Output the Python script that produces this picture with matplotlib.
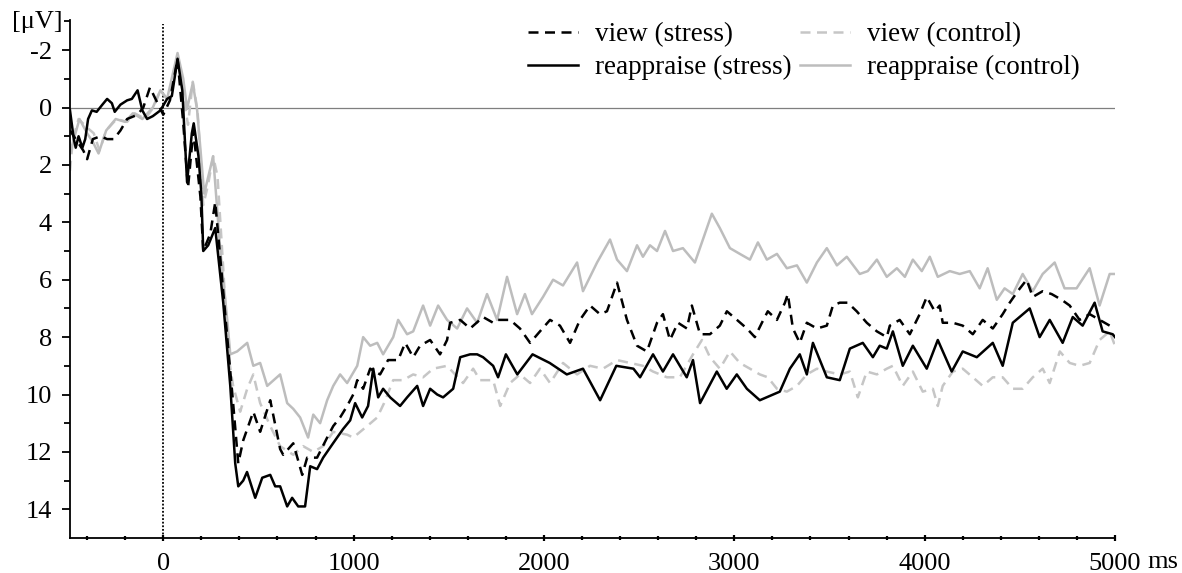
import numpy as np
import matplotlib
matplotlib.use("Agg")
import matplotlib.pyplot as plt

plt.rcParams['font.family'] = ['Liberation Serif', 'DejaVu Serif']

# grand-average ERP waveforms, time in ms, amplitude in microvolts
t_reapp_stress = [-490, -470, -460, -445, -425, -410, -395, -375, -350, -320, -295, -270, -255,
                  -225, -190, -165, -135, -110, -85, -55, -15, 20, 45, 75, 100, 125, 150, 160,
                  185, 200, 210, 236, 273, 315, 352, 378, 394, 420, 440, 483, 520, 562, 588,
                  614, 651, 677, 709, 745, 772, 808, 840, 892, 945, 982, 1008, 1045, 1076,
                  1103, 1129, 1155, 1192, 1244, 1281, 1334, 1365, 1402, 1439, 1470, 1523,
                  1560, 1612, 1649, 1680, 1733, 1759, 1800, 1860, 1940, 2030, 2120, 2205,
                  2295, 2380, 2470, 2505, 2573, 2625, 2678, 2750, 2783, 2820, 2908, 2960,
                  3013, 3066, 3134, 3239, 3292, 3344, 3381, 3413, 3486, 3554, 3607, 3675,
                  3728, 3764, 3801, 3833, 3885, 3938, 4011, 4069, 4142, 4200, 4274, 4358,
                  4410, 4463, 4552, 4604, 4657, 4725, 4778, 4830, 4893, 4935, 4988, 5000]
v_reapp_stress = [0.1, 1.1, 1.4, 1.0, 1.4, 1.1, 0.4, 0.1, 0.15, -0.1, -0.3, -0.15, 0.15,
                  -0.1, -0.25, -0.3, -0.6, 0.1, 0.4, 0.3, 0.1, -0.3, -0.4, -1.7, -0.6, 2.6, 0.9, 0.55,
                  1.7, 3.0, 5.0, 4.8, 4.2, 6.8, 9.7, 12.4, 13.2, 13.0, 12.7, 13.6, 12.9, 12.8, 13.2,
                  13.2, 13.9, 13.6, 13.9, 13.9, 12.5, 12.6, 12.2, 11.7, 11.2, 10.9, 10.3, 10.8, 10.4,
                  9.1, 10.1, 9.8, 10.1, 10.4, 10.1, 9.7, 10.4, 9.8, 10.0, 10.1, 9.8,
                  8.7, 8.6, 8.6, 8.7, 9.0, 9.4, 8.6, 9.3, 8.6, 8.9, 9.3, 9.1,
                  10.2, 9.0, 9.1, 9.4, 8.6, 9.2, 8.6, 9.4, 8.8, 10.3, 9.2, 9.8,
                  9.3, 9.8, 10.2, 9.9, 9.1, 8.6, 9.3, 8.2, 9.4, 9.5, 8.4, 8.2,
                  8.7, 8.3, 8.4, 7.8, 9.0, 8.3, 9.1, 8.1, 9.2, 8.5, 8.7, 8.2,
                  9.0, 7.5, 7.0, 8.0, 7.4, 8.2, 7.3, 7.6, 6.8, 7.8, 7.9, 8.0]

t_reapp_control = [-490, -470, -440, -400, -370, -340, -300, -250, -200, -160, -110, -55, -15,
                   20, 75, 105, 125, 155, 178, 215, 262, 300, 336, 352, 388, 441, 473, 509,
                   546, 614, 651, 683, 719, 761, 788, 824, 861, 893, 929, 966, 1019, 1050,
                   1087, 1124, 1155, 1208, 1234, 1281, 1313, 1365, 1402, 1444, 1491, 1544,
                   1596, 1649, 1701, 1754, 1806, 1859, 1900, 1937, 1995, 2048, 2100, 2174,
                   2205, 2279, 2347, 2384, 2436, 2489, 2520, 2557, 2594, 2636, 2678, 2730,
                   2793, 2835, 2882, 2924, 2977, 3029, 3082, 3124, 3171, 3224, 3276, 3329,
                   3381, 3434, 3486, 3539, 3591, 3659, 3701, 3749, 3801, 3854, 3896, 3938,
                   3985, 4027, 4069, 4132, 4184, 4237, 4289, 4331, 4379, 4420, 4463, 4515,
                   4568, 4620, 4683, 4735, 4798, 4867, 4919, 4972, 5000]
v_reapp_control = [1.6, 1.1, 0.4, 0.9, 1.2, 1.6, 0.8, 0.4, 0.5, 0.2, 0.4, 0.0, -0.6,
                   -0.3, -1.9, -1.0, 0.05, -0.85, 0.1, 3.0, 1.7, 5.0, 7.4, 8.6, 8.5, 8.2, 9.0, 8.9,
                   9.7, 9.3, 10.3, 10.5, 10.8, 11.5, 10.7, 11.0, 10.2, 9.7, 9.3, 9.6, 9.0, 8.0,
                   8.3, 8.2, 8.6, 8.0, 7.4, 7.9, 7.8, 6.9, 7.6, 6.9, 7.4, 7.7,
                   7.0, 7.5, 6.5, 7.4, 5.9, 7.2, 6.5, 7.2, 6.6, 6.0, 6.2, 5.4,
                   6.4, 5.4, 4.6, 5.3, 5.7, 4.8, 5.2, 4.8, 5.0, 4.3, 5.0, 4.9,
                   5.4, 4.6, 3.7, 4.2, 4.9, 5.1, 5.3, 4.7, 5.3, 5.1, 5.6, 5.5,
                   6.1, 5.4, 4.9, 5.5, 5.2, 5.8, 5.7, 5.3, 5.9, 5.6, 5.9, 5.3,
                   5.7, 5.2, 5.9, 5.7, 5.8, 5.7, 6.3, 5.6, 6.7, 6.3, 6.5, 5.8,
                   6.4, 5.8, 5.4, 6.3, 6.3, 5.6, 6.9, 5.8, 5.8]

t_view_stress = [-490, -420, -400, -370, -330, -295, -260, -225, -190, -135, -105, -70, -30,
                 0, 35, 75, 105, 130, 158, 195, 210, 247, 273, 299, 336, 367, 394, 420, 473,
                 509, 562, 614, 630, 683, 730, 756, 808, 861, 893, 929, 966, 998, 1019, 1050,
                 1087, 1139, 1181, 1234, 1271, 1313, 1349, 1402, 1454, 1491, 1507, 1560, 1612,
                 1680, 1733, 1754, 1822, 1874, 1927, 1979, 2032, 2084, 2137, 2189, 2242, 2294,
                 2331, 2384, 2436, 2489, 2541, 2594, 2625, 2662, 2704, 2751, 2777, 2820, 2872,
                 2924, 2961, 3014, 3066, 3108, 3145, 3176, 3224, 3266, 3281, 3308, 3344, 3381,
                 3434, 3486, 3518, 3554, 3596, 3643, 3696, 3749, 3801, 3817, 3869, 3922, 3974,
                 4011, 4053, 4079, 4095, 4148, 4200, 4253, 4305, 4358, 4410, 4447, 4489, 4536,
                 4568, 4620, 4667, 4720, 4762, 4814, 4867, 4919, 4972, 5000]
v_view_stress = [0.8, 1.5, 1.8, 1.1, 1.0, 1.1, 1.1, 0.8, 0.4, 0.25, 0.0, -0.7, -0.15,
                 0.25, -0.25, -1.7, 0.55, 2.8, 0.8, 3.1, 5.0, 4.4, 3.3, 5.2, 8.0, 10.3, 12.4, 11.6, 10.6,
                 11.3, 10.2, 11.9, 12.1, 11.7, 12.8, 12.2, 12.2, 11.5, 11.1, 10.8, 10.4, 10.0, 9.5, 9.8,
                 9.1, 9.3, 8.8, 8.8, 8.2, 8.7, 8.3, 8.1, 8.6, 8.1, 7.5, 7.4, 7.7,
                 7.3, 7.5, 7.4, 7.4, 7.7, 8.2, 7.8, 7.4, 7.6, 8.2, 7.4, 6.9, 7.2,
                 7.1, 6.1, 7.4, 8.3, 8.5, 7.5, 7.2, 8.1, 7.5, 7.7, 6.9, 7.9, 7.9,
                 7.6, 7.1, 7.4, 7.7, 8.0, 7.5, 7.1, 7.4, 6.8, 6.5, 7.7, 8.2, 7.5,
                 7.7, 7.6, 6.9, 6.8, 6.8, 7.1, 7.5, 7.8, 8.0, 7.6, 7.4, 7.9, 7.2,
                 6.6, 7.1, 6.9, 7.5, 7.5, 7.6, 7.9, 7.4, 7.7, 7.2, 6.8, 6.4, 6.0,
                 6.6, 6.4, 6.5, 6.7, 6.9, 7.4, 7.2, 7.4, 7.6, 7.5]

t_view_control = [-490, -475, -445, -400, -365, -335, -300, -245, -190, -150, -95, -52, -15,
                  20, 40, 75, 105, 130, 155, 180, 210, 235, 262, 285, 315, 341, 367, 404, 441,
                  473, 509, 562, 614, 683, 735, 788, 840, 893, 966, 998, 1071, 1124, 1160,
                  1208, 1260, 1313, 1365, 1418, 1491, 1575, 1628, 1664, 1733, 1770, 1822,
                  1874, 1927, 1979, 2032, 2100, 2174, 2242, 2310, 2384, 2452, 2520, 2573,
                  2646, 2714, 2783, 2830, 2872, 2924, 2977, 3029, 3082, 3134, 3176, 3224,
                  3276, 3329, 3381, 3434, 3486, 3554, 3607, 3649, 3696, 3749, 3801, 3833,
                  3885, 3938, 3990, 4043, 4069, 4095, 4148, 4200, 4253, 4305, 4358, 4410,
                  4463, 4515, 4568, 4620, 4657, 4710, 4762, 4814, 4867, 4919, 4972, 5000]
v_view_control = [2.2, 1.1, 0.4, 0.7, 0.9, 1.5, 0.8, 0.4, 0.5, 0.2, 0.4, 0.0, -0.6,
                  -0.3, -0.5, -1.8, -0.4, 0.6, -0.9, 0.1, 3.4, 2.7, 1.7, 2.4, 5.6, 8.6, 9.7, 10.6, 9.8,
                  9.3, 10.3, 11.1, 11.8, 12.1, 11.8, 12.0, 11.8, 11.3, 11.4, 11.5, 11.1, 10.8, 10.3,
                  9.5, 9.5, 9.3, 9.4, 9.1, 9.0, 9.6, 9.1, 9.5, 9.5, 10.4, 9.6,
                  9.3, 9.6, 9.1, 9.6, 8.9, 9.3, 9.0, 9.1, 8.8, 8.9, 9.0, 9.2,
                  9.4, 9.4, 8.6, 8.1, 8.7, 9.1, 8.5, 8.9, 9.1, 9.3, 9.4, 9.8,
                  9.9, 9.7, 9.3, 9.1, 9.2, 9.3, 9.2, 10.1, 9.2, 9.3, 9.1, 9.0,
                  9.7, 9.2, 9.9, 9.8, 10.4, 9.7, 9.2, 9.1, 9.4, 9.7, 9.4, 9.4,
                  9.8, 9.8, 9.4, 9.1, 9.6, 8.5, 8.9, 9.0, 8.9, 8.1, 7.8, 8.3]

labels = ['view (stress)', 'reappraise (stress)', 'view (control)', 'reappraise (control)']

x_major = [0, 1000, 2000, 3000, 4000, 5000]
x_labels = ['0', '1000', '2000', '3000', '4000', '5000']
y_major = [-2, 0, 2, 4, 6, 8, 10, 12, 14]

fig = plt.figure(figsize=(11.82, 5.73), dpi=100)
ax = fig.add_axes([70 / 1182, 1 - 538 / 573, (1115 - 70) / 1182, 518 / 573])

dash = (4, 2.6)
gray_solid = '#bdbdbd'
gray_dash = '#c6c6c6'

ax.axhline(0, color='#7f7f7f', lw=0.9, zorder=1)
ax.axvline(0, ymax=(15 + 2.9) / 18.05, color='black', lw=1.3, ls=(0, (1, 1)), zorder=1)

l_vc, = ax.plot(t_view_control, v_view_control, color=gray_dash, lw=1.8, dashes=dash, zorder=2)
l_rc, = ax.plot(t_reapp_control, v_reapp_control, color=gray_solid, lw=1.8, zorder=2)
l_vs, = ax.plot(t_view_stress, v_view_stress, color='black', lw=1.8, dashes=dash, zorder=3)
l_rs, = ax.plot(t_reapp_stress, v_reapp_stress, color='black', lw=1.8, zorder=3)

ax.set_xlim(-490, 5000)
ax.set_ylim(15, -3.05)

for side in ['top', 'right']:
    ax.spines[side].set_visible(False)
for side in ['left', 'bottom']:
    ax.spines[side].set_linewidth(1.3)

ax.set_xticks(x_major)
ax.set_xticklabels(x_labels)
ax.set_xticks([m for m in range(-400, 5000, 200) if m % 1000 != 0], minor=True)
ax.set_yticks(y_major)
ax.set_yticklabels([str(v) for v in y_major])
ax.set_yticks(list(range(-3, 15, 2)), minor=True)

ax.tick_params(axis='x', which='major', direction='inout', length=5, width=1.6, pad=8, labelsize=19)
ax.tick_params(axis='x', which='minor', direction='inout', length=3.5, width=1.6)
ax.tick_params(axis='y', which='major', direction='out', length=6, width=1.3, pad=7, labelsize=19)
ax.tick_params(axis='y', which='minor', direction='out', length=4, width=1.3)

ax.annotate('ms', xy=(5000, 0), xycoords=('data', 'axes fraction'), xytext=(32, -30),
            textcoords='offset pixels', ha='left', va='baseline', fontsize=19)
fig.text(12 / 1182, 1 - 28 / 573, '[\u03bcV]', ha='left', va='baseline', fontsize=19)

fig.legend([l_vs, l_rs, l_vc, l_rc], labels, ncol=2, loc='upper left',
           bbox_to_anchor=(528 / 1182, 1 - 22 / 573), frameon=False, fontsize=19.5,
           handlelength=1.85, handletextpad=0.62, columnspacing=0.3, labelspacing=0.3,
           borderpad=0, borderaxespad=0)

fig.savefig('out.png', dpi=100)
